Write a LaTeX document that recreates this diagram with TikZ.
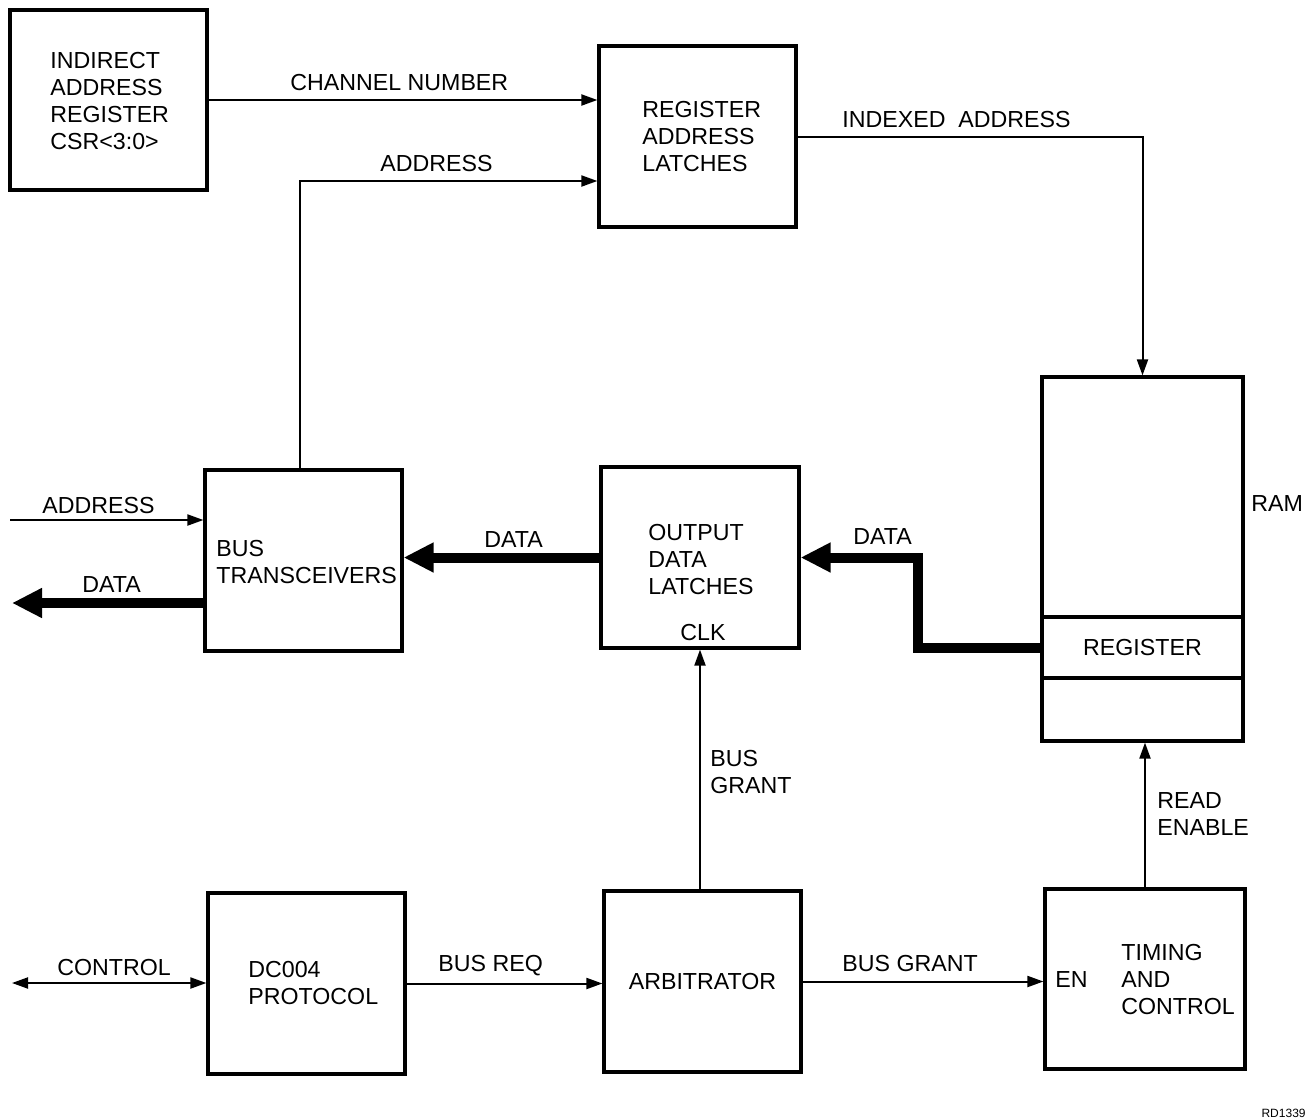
\documentclass[tikz,border=0pt]{standalone}
\usepackage{fontspec}
\setmainfont{Liberation Sans}
\usetikzlibrary{arrows.meta}
\begin{document}
\begin{tikzpicture}[x=0.5pt,y=-0.5pt,
  every node/.style={font=\fontsize{11.6}{13.5}\selectfont},
  box/.style={draw, line width=1.6pt, inner sep=0pt},
  lbl/.style={inner sep=0pt, anchor=west, align=left},
  wire/.style={line width=1pt, -{Triangle[length=8pt,width=5.5pt]}},
  bus/.style={line width=5pt, -{Triangle[length=15pt,width=14pt]}}]
\useasboundingbox (0,0) rectangle (1308,1120);
% boxes
\node[box, minimum width=98.5pt, minimum height=90pt] (iar) at (108.5,100) {};
\node[box, minimum width=98.5pt, minimum height=90.5pt] (ral) at (697.5,136.5) {};
\node[box, minimum width=100.5pt, minimum height=182pt] (ram) at (1142.5,559) {};
\node[box, minimum width=100.5pt, minimum height=30.5pt] (reg) at (1142.5,647.5) {REGISTER};
\node[box, minimum width=98.5pt, minimum height=90.5pt] (bt) at (303.5,560.5) {};
\node[box, minimum width=99pt, minimum height=90.5pt] (odl) at (700,557.5) {};
\node[box, minimum width=98.5pt, minimum height=90.5pt] (dc) at (306.5,983.5) {};
\node[box, minimum width=98.5pt, minimum height=90.5pt] (arb) at (702.5,981.5) {ARBITRATOR};
\node[box, minimum width=100pt, minimum height=90pt] (tc) at (1145,979) {};
% box texts
\node[lbl] (tiar) at (50,101.5) {INDIRECT\\ADDRESS\\REGISTER\\CSR<3:0>};
\node[lbl] (tral) at (642,136.5) {REGISTER\\ADDRESS\\LATCHES};
\node[lbl] (tbt) at (216,562.5) {BUS\\TRANSCEIVERS};
\node[lbl] (todl) at (648,560) {OUTPUT\\DATA\\LATCHES};
\node[lbl] (tclk) at (680,633) {CLK};
\node[lbl] (tdc) at (248,983.5) {DC004\\PROTOCOL};
\node[lbl] (ten) at (1055,980) {EN};
\node[lbl] (ttc) at (1121,980) {TIMING\\AND\\CONTROL};
\node[lbl] (tram) at (1251,504) {RAM};
% coordinates for free ends
\coordinate (ain) at (10,520);
\coordinate (dout) at (12,603);
\coordinate (cin) at (12,983);
% connectors
\draw[wire] (iar.east) -- (iar.east -| ral.west);
\draw[wire] (bt.north -| 300,0) |- ([yshift=-22.25pt]ral.west);
\draw[wire] (ral.east) -| (ram.north);
\draw[wire] (ain) -- (ain -| bt.west);
\draw[bus] (bt.west |- dout) -- (dout);
\draw[bus] (odl.west) -- (odl.west -| bt.east);
\draw[bus] (reg.west) -- ++(-122,0) |- (odl.east);
\draw[line width=1pt, {Triangle[length=8pt,width=5.5pt]}-{Triangle[length=8pt,width=5.5pt]}] (cin) -- (cin -| dc.west);
\draw[wire] (dc.east) -- (dc.east -| arb.west);
\draw[wire] (arb.north -| odl.south) -- (odl.south);
\draw[wire] (arb.east) -- (arb.east -| tc.west);
\draw[wire] (tc.north) -- (tc.north |- ram.south);
% connector labels
\node[lbl] (lch) at (290,83) {CHANNEL NUMBER};
\node[lbl] (lad) at (380,164) {ADDRESS};
\node[lbl] (lix) at (842,120) {INDEXED\ \ ADDRESS};
\node[lbl] (lain) at (42,506) {ADDRESS};
\node[lbl] (ldout) at (82,585) {DATA};
\node[lbl] (ldm) at (484,540) {DATA};
\node[lbl] (ldr) at (853,537) {DATA};
\node[lbl] (lbg) at (710,772.5) {BUS\\GRANT};
\node[lbl] (lre) at (1157,814.5) {READ\\ENABLE};
\node[lbl] (lctl) at (57,968) {CONTROL};
\node[lbl] (lbr) at (438,966) {BUS REQ};
\node[lbl] (lbg2) at (842,964) {BUS GRANT};
\node[inner sep=0pt, anchor=east, font=\fontsize{6}{7}\selectfont] (rd) at (1306,1113) {RD1339};
\end{tikzpicture}
\end{document}
